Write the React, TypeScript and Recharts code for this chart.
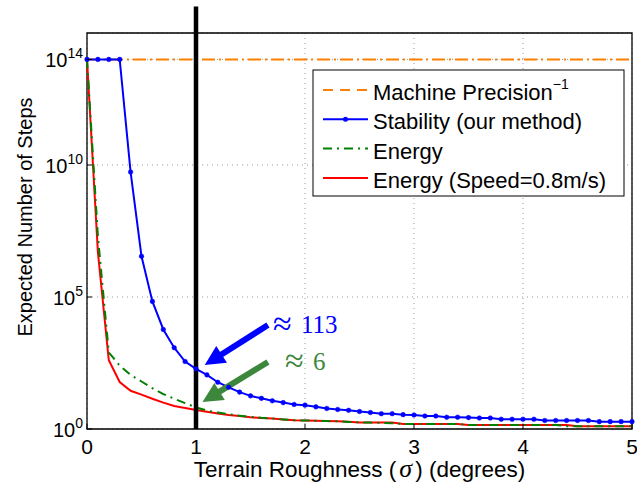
import React from 'react';
import { LineChart, Line, XAxis, YAxis, CartesianGrid, ReferenceLine, ReferenceArea } from 'recharts';

const roughness = [
  0, 0.1, 0.2, 0.3, 0.4, 0.5, 0.6, 0.7, 0.8, 0.9,
  1, 1.1, 1.2, 1.3, 1.4, 1.5, 1.6, 1.7, 1.8, 1.9,
  2, 2.1, 2.2, 2.3, 2.4, 2.5, 2.6, 2.7, 2.8, 2.9,
  3, 3.1, 3.2, 3.3, 3.4, 3.5, 3.6, 3.7, 3.8, 3.9,
  4, 4.1, 4.2, 4.3, 4.4, 4.5, 4.6, 4.7, 4.8, 4.9, 5,
];

const stability = [
  1e14, 1e14, 1e14, 1e14, 5.4e9, 3.5e6, 6.8e4, 5.9e3, 1.2e3, 360,
  190, 112, 59, 38, 25, 18, 14.5, 11.7, 10, 8.5,
  8, 6.9, 6, 5.5, 5.1, 4.6, 4.2, 3.8, 3.8, 3.5,
  3.4, 3.1, 3.1, 2.8, 2.8, 2.7, 2.6, 2.6, 2.35, 2.35,
  2.35, 2.35, 2.1, 2.1, 2.1, 2.1, 2.1, 1.9, 1.9, 1.9, 1.9,
];

const energy = [
  1e14, 2e7, 800, 250, 112, 63, 35, 21, 14, 9.5,
  6.6, 5, 4.2, 3.6, 3.2, 2.9, 2.65, 2.5, 2.3, 2.15,
  2.1, 2.05, 2, 1.95, 1.85, 1.8, 1.75, 1.7, 1.65, 1.55,
  1.55, 1.55, 1.55, 1.55, 1.55, 1.42, 1.42, 1.42, 1.42, 1.42,
  1.42, 1.42, 1.42, 1.42, 1.28, 1.28, 1.28, 1.28, 1.28, 1.28, 1.28,
];

const energySpeed = [
  1e14, 5e6, 400, 60, 28, 20, 14, 10, 7.4, 6.2,
  5.2, 4.5, 3.9, 3.4, 3.1, 2.8, 2.6, 2.5, 2.3, 2.15,
  2.1, 2.05, 2, 1.95, 1.9, 1.75, 1.75, 1.75, 1.75, 1.55,
  1.55, 1.55, 1.55, 1.55, 1.55, 1.42, 1.42, 1.42, 1.42, 1.42,
  1.42, 1.42, 1.42, 1.42, 1.42, 1.28, 1.28, 1.28, 1.28, 1.28, 1.28,
];

const machinePrecisionInv = 1e14;
const xTicks = [0, 1, 2, 3, 4, 5];
const yTicks = [1, 1e5, 1e10, 1e14];

const data = roughness.map((x, i) => ({
  x,
  stability: stability[i],
  energy: energy[i],
  energySpeed: energySpeed[i],
}));

const SANS = "'Liberation Sans', Arial, Helvetica, sans-serif";
const SERIF = "'Liberation Serif', 'DejaVu Serif', serif";
const ORANGE = '#FF8000';
const ANNOT_GREEN = '#3C873C';

const XTick = ({ x, y, payload }: any) => (
  <g>
    <line x1={x} x2={x} y1={y} y2={y - 5} stroke="#000" />
    <text x={x} y={y + 25} textAnchor="middle" fontSize={21} fontFamily={SANS} fill="#000">
      {payload.value}
    </text>
  </g>
);

const YTick = ({ x, y, payload }: any) => {
  const exp = Math.round(Math.log10(payload.value));
  return (
    <g>
      <line x1={x} x2={x + 5} y1={y} y2={y} stroke="#000" />
      <text x={x - 4} y={y + 8} textAnchor="end" fontSize={20} fontFamily={SANS} fill="#000">
        <tspan>10</tspan>
        <tspan dy={-9} fontSize={14}>{exp}</tspan>
      </text>
    </g>
  );
};

// arrow + "≈ n" annotation drawn from the segment end points
const makeArrow = (color: string, num: string, symDx: number, numDx: number) => (p: any) => {
  const { x1, y1, x2, y2 } = p;
  const ang = Math.atan2(y2 - y1, x2 - x1);
  const hl = 20;
  const hw = 10;
  const bx = x2 - hl * Math.cos(ang);
  const by = y2 - hl * Math.sin(ang);
  const px = -Math.sin(ang) * hw;
  const py = Math.cos(ang) * hw;
  return (
    <g>
      <line x1={x1} y1={y1} x2={bx + 3 * Math.cos(ang)} y2={by + 3 * Math.sin(ang)} stroke={color} strokeWidth={6} />
      <polygon points={`${x2},${y2} ${bx + px},${by + py} ${bx - px},${by - py}`} fill={color} />
      <text x={x1 + symDx} y={y1 + 10} fontSize={34} fontFamily={SERIF} fill={color}>≈</text>
      <text x={x1 + numDx} y={y1 + 8} fontSize={25} fontFamily={SERIF} fill={color}>{num}</text>
    </g>
  );
};

const XLabel = ({ viewBox }: any) => {
  const cx = viewBox.x + viewBox.width / 2;
  return (
    <text x={cx} y={viewBox.y + 48} textAnchor="middle" fontSize={22.5} fontFamily={SANS} fill="#000">
      <tspan>Terrain Roughness (</tspan>
      <tspan dx={3} fontFamily={SERIF} fontStyle="italic" fontSize={26}>σ</tspan>
      <tspan dx={3}>) (degrees)</tspan>
    </text>
  );
};

const YLabel = () => (
  <text x={25} y={217} transform="rotate(-90 25 217)" textAnchor="middle" dominantBaseline="central"
    fontSize={20} fontFamily={SANS} fill="#000">
    Expected Number of Steps
  </text>
);

const legendItems = [
  { name: 'Machine Precision', sup: '−1', color: ORANGE, dash: '10 7', dot: false },
  { name: 'Stability (our method)', sup: '', color: '#0000FF', dash: undefined, dot: true },
  { name: 'Energy', sup: '', color: '#008000', dash: '9 5 2 5', dot: false },
  { name: 'Energy (Speed=0.8m/s)', sup: '', color: '#FF0000', dash: undefined, dot: false },
];

const LegendBox = () => (
  <svg width={313} height={128} style={{ position: 'absolute', left: 312, top: 69 }}>
    <rect x={1} y={1} width={311} height={126} fill="#fff" stroke="#000" strokeWidth={1} />
    {legendItems.map((it, i) => {
      const base = 31 + i * 29.3;
      const ly = base - 10;
      return (
        <g key={it.name}>
          <line x1={11} x2={56} y1={ly} y2={ly} stroke={it.color} strokeWidth={2} strokeDasharray={it.dash} />
          {it.dot && <circle cx={33.5} cy={ly} r={2.5} fill={it.color} />}
          <text x={61} y={base} fontSize={22} fontFamily={SANS} fill="#000">
            <tspan>{it.name}</tspan>
            {it.sup && <tspan dy={-11} fontSize={14}>{it.sup}</tspan>}
          </text>
        </g>
      );
    })}
  </svg>
);

export default function App() {
  return (
    <div style={{ position: 'absolute', left: 0, top: 0, width: 637, height: 487, background: '#fff' }}>
      <LineChart width={637} height={487} data={data} margin={{ top: 33, right: 5, bottom: 0, left: 0 }}>
        <CartesianGrid stroke="#9a9a9a" strokeDasharray="1 4" />
        <XAxis
          type="number"
          dataKey="x"
          domain={[0, 5]}
          ticks={xTicks}
          interval={0}
          height={58}
          tickSize={0}
          tickMargin={0}
          tickLine={false}
          axisLine={false}
          tick={<XTick />}
          label={{ content: <XLabel /> }}
        />
        <YAxis
          type="number"
          scale="log"
          domain={[1, 1e15]}
          allowDataOverflow
          ticks={yTicks}
          interval={0}
          width={87}
          tickSize={0}
          tickMargin={0}
          tickLine={false}
          axisLine={false}
          tick={<YTick />}
          label={{ content: <YLabel /> }}
        />
        <ReferenceLine y={machinePrecisionInv} stroke={ORANGE} strokeWidth={2} strokeDasharray="13 4 2 4" />
        <Line
          dataKey="stability"
          stroke="#0000FF"
          strokeWidth={2}
          dot={{ r: 2.3, fill: '#0000FF', stroke: '#0000FF', strokeWidth: 0.5 }}
          isAnimationActive={false}
        />
        <Line dataKey="energySpeed" stroke="#FF0000" strokeWidth={2} dot={false} isAnimationActive={false} />
        <Line
          dataKey="energy"
          stroke="#008000"
          strokeWidth={2}
          strokeDasharray="9 5 2 5"
          dot={false}
          isAnimationActive={false}
        />
        <ReferenceArea x1={0} x2={5} y1={1} y2={1e15} fill="none" stroke="#000" strokeWidth={1.3} ifOverflow="visible" />
        <ReferenceLine
          segment={[{ x: 1, y: 1e16 }, { x: 1, y: 1 }]}
          stroke="#000"
          strokeWidth={4.5}
          ifOverflow="visible"
        />
        <ReferenceLine
          segment={[{ x: 1.66, y: 8700 }, { x: 1.08, y: 263 }]}
          ifOverflow="visible"
          shape={makeArrow('#0000FF', '113', 5, 33)}
        />
        <ReferenceLine
          segment={[{ x: 1.66, y: 347 }, { x: 1.06, y: 10.5 }]}
          ifOverflow="visible"
          shape={makeArrow(ANNOT_GREEN, '6', 17, 45)}
        />
      </LineChart>
      <LegendBox />
    </div>
  );
}
